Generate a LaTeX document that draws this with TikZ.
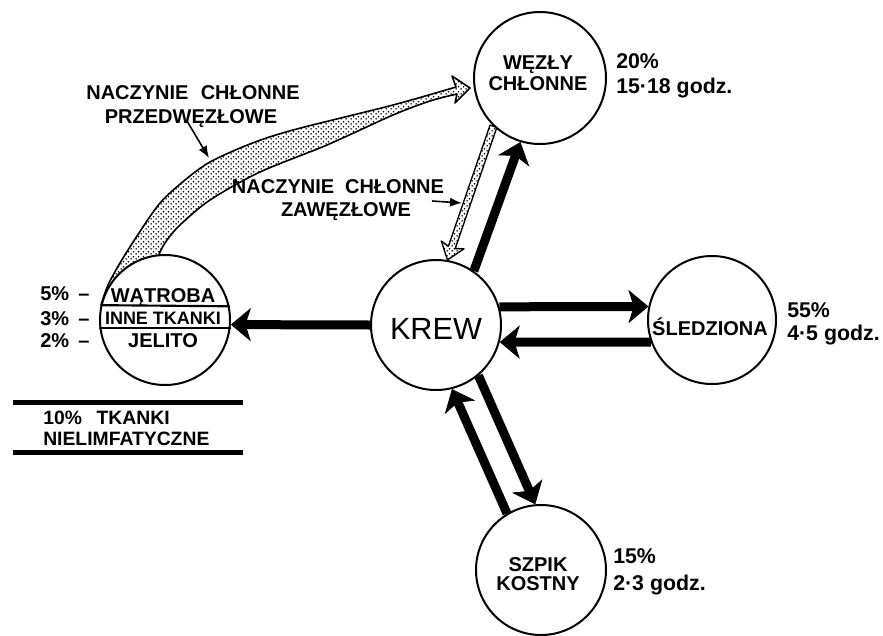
\documentclass[tikz,border=0pt]{standalone}
\usepackage{fontspec}
\setmainfont{Liberation Sans}
\usetikzlibrary{arrows.meta,calc,patterns,backgrounds}

% stipple used for the lymph vessels
\pgfdeclarepatternformonly{stip}{\pgfpointorigin}{\pgfpoint{3.6pt}{3.6pt}}{\pgfpoint{3.6pt}{3.6pt}}{%
  \pgfpathcircle{\pgfpoint{0.9pt}{0.9pt}}{0.65pt}%
  \pgfpathcircle{\pgfpoint{2.7pt}{2.5pt}}{0.65pt}%
  \pgfusepath{fill}}

\tikzset{
  organ/.style={circle, draw, line width=1.5pt, fill=white, minimum size=97.5pt, inner sep=0pt},
  lab/.style={font=\fontsize{15}{18}\selectfont\bfseries, inner sep=0pt, anchor=base},
  side/.style={font=\fontsize{16}{19}\selectfont\bfseries, inner sep=0pt, anchor=base west},
  flow/.style={line width=6.75pt, -{Stealth[length=15pt, width=25pt, inset=4pt, line width=0.5pt]}},
  stipple/.style={draw, line width=1pt, pattern=stip, line join=round},
  pointer/.style={line width=1.2pt, -{Latex[length=9pt, width=7pt]}},
  rule/.style={line width=3.75pt}
}

% hollow stippled arrow between two points
\newcommand\stipplearrow[2]{%
  \coordinate (sa1) at ($(#2)!10pt!(#1)$);
  \coordinate (sa2) at ($(#2)!12pt!(#1)$);
  \draw[stipple] ($(#1)!2.7pt!90:(#2)$) -- ($(sa1)!2.7pt!90:(#2)$)
    -- ($(sa2)!9pt!90:(#2)$) -- (#2) -- ($(sa2)!9pt!-90:(#2)$)
    -- ($(sa1)!2.7pt!-90:(#2)$) -- ($(#1)!2.7pt!-90:(#2)$) -- cycle;
}

\begin{document}
\begin{tikzpicture}[x=0.75pt, y=-0.75pt]
\useasboundingbox (0,0) rectangle (883,636);

% organs
\node[organ, minimum size=99pt] (wez) at (540,78) {};
\node[organ] (krew) at (436,325) {};
\node[organ, minimum size=96pt] (sled) at (712,320) {};
\node[organ] (szp) at (541,570) {};
\node[organ] (liv) at (165,320) {};

% prenodal lymph vessel (tapering band)
\begin{pgfonlayer}{background}
\draw[stipple, line width=1.2pt]
  plot[smooth] coordinates {(101,305) (108,285) (120,263) (137,236) (160,203) (185,180)
                            (210,162) (250,144) (293,130) (393,105) (456,87)}
  -- (452,76) -- (470,88) -- (455,103) -- (457,94)
  -- plot[smooth] coordinates {(457,94) (430,101) (393,115) (327,145) (260,172) (210,200)
                               (180,225) (167,240) (160,252) (157,262)}
  -- (165,300) -- cycle;
\end{pgfonlayer}

% compartments of the non-lymphatic tissue circle
\draw[line width=1.6pt] (liv.167.6) -- (liv.12.4);
\draw[line width=1.6pt] (liv.187.1) -- (liv.-7.1);

% blood flows
\draw[flow] (krew.55) -- (wez.253);
\draw[flow] (krew.180) -- (liv.-4.4);
\draw[flow] (krew.16) -- (sled.168);
\draw[flow] (sled.200) -- (krew.-15);
\draw[flow] (szp.121) -- (krew.-76);
\draw[flow] (krew.-50) -- (szp.95);

% postnodal lymph vessel
\stipplearrow{wez.226}{krew.80}

% organ names
\node[lab] (wez1) at (538,69) {WĘZŁY};
\node[lab] (wez2) at (538,90) {CHŁONNE};
\node[font=\fontsize{23}{26}\selectfont, anchor=base, inner sep=0pt] (krewt) at (436,339) {KREW};
\node[lab] (sledt) at (710,335) {ŚLEDZIONA};
\node[lab] (szp1) at (538,571) {SZPIK};
\node[lab] (szp2) at (538,590) {KOSTNY};
\node[lab] (liv1) at (163,302) {WĄTROBA};
\node[lab, font=\fontsize{13.5}{16}\selectfont\bfseries] (liv2) at (163,324.5) {INNE TKANKI};
\node[lab] (liv3) at (163,347) {JELITO};

% shares and transit times
\node[side] (wezp) at (616,68.5) {20\%};
\node[side] (wezt) at (616,93.5) {15·18 godz.};
\node[side] (sledp) at (787,317.5) {55\%};
\node[side] (sledtt) at (787,340.5) {4·5 godz.};
\node[side] (szpp) at (613,563.5) {15\%};
\node[side] (szpt) at (613,590.5) {2·3 godz.};

\node[lab, anchor=base west] (p5) at (40,300) {5\%\hspace{7pt}–};
\node[lab, anchor=base west] (p3) at (40,325) {3\%\hspace{7pt}–};
\node[lab, anchor=base west] (p2) at (40,347) {2\%\hspace{7pt}–};

% non-lymphatic tissue total
\draw[rule] (13,402) -- (243,402);
\draw[rule] (13,452) -- (243,452);
\node[lab, anchor=base west, font=\fontsize{14.5}{17}\selectfont\bfseries] (nl1) at (43,424) {10\%\hspace{11pt}TKANKI};
\node[lab, anchor=base west, font=\fontsize{14.5}{17}\selectfont\bfseries] (nl2) at (43,445) {NIELIMFATYCZNE};

% vessel labels
\node[lab] (nc1) at (193,99) {NACZYNIE\hspace{5pt} CHŁONNE};
\node[lab] (przed) at (191,123) {PRZEDWĘZŁOWE};
\node[lab] (nc2) at (338,193) {NACZYNIE\hspace{4pt} CHŁONNE};
\node[lab] (zaw) at (346,216) {ZAWĘZŁOWE};

\coordinate (pw0) at (187,121);
\coordinate (pw1) at (209,158);
\draw[pointer] (pw0) -- (pw1);
\coordinate (zw0) at (432,201);
\coordinate (zw1) at (462,203);
\draw[pointer] (zw0) -- (zw1);
\end{tikzpicture}
\end{document}
